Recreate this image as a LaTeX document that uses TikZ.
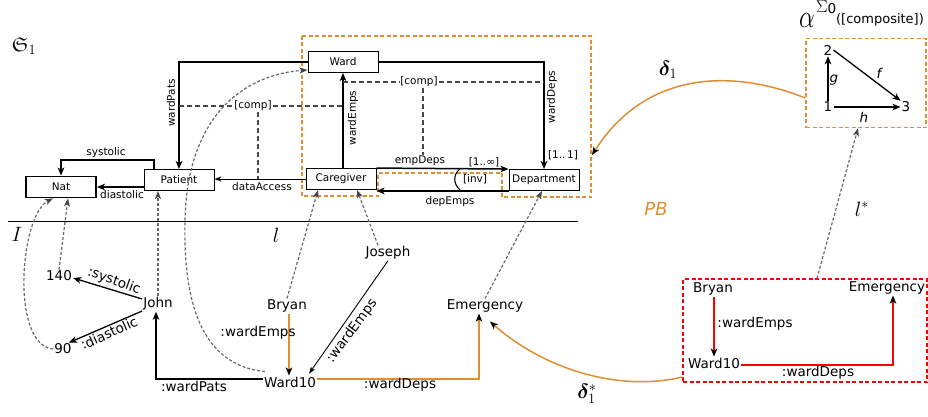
\documentclass[tikz,border=0pt]{standalone}
\usepackage{amsmath,amssymb,bm}
\usepackage{fontspec}
\setmainfont{DejaVu Sans}
\usetikzlibrary{arrows.meta,calc}
\definecolor{pborange}{RGB}{222,142,52}
\definecolor{mapgray}{RGB}{105,105,105}
\definecolor{compgray}{RGB}{70,70,70}
\begin{document}
\begin{tikzpicture}[x=1pt,y=-1pt,
  box/.style={draw, line width=0.9pt, minimum width=70pt, minimum height=21pt, inner sep=0pt, font=\fontsize{10.5}{12}\selectfont},
  sm/.style={font=\fontsize{10.5}{12}\selectfont, inner sep=1pt},
  lg/.style={font=\fontsize{13.5}{15}\selectfont, inner sep=1pt},
  arr/.style={line width=1.5pt, -{Stealth[length=8pt,width=6.5pt,inset=2pt]}},
  thinarr/.style={line width=0.9pt, -{Stealth[length=7pt,width=5pt,inset=2pt]}},
  oarr/.style={draw=pborange, line width=1.5pt, -{Stealth[length=8pt,width=6.5pt,inset=2pt,black]}},
  rarr/.style={draw=red, line width=1.5pt, -{Stealth[length=8pt,width=6.5pt,inset=2pt,black]}},
  maparr/.style={draw=mapgray, line width=1.2pt, dash pattern=on 3pt off 2pt, -{Stealth[length=8pt,width=6pt,inset=2pt,compgray]}},
  cdash/.style={draw=compgray, line width=1.3pt, dash pattern=on 5pt off 3pt},
  pbline/.style={draw=pborange, line width=1.3pt, dash pattern=on 4pt off 2.5pt},
  rline/.style={draw=red, line width=1.3pt, dash pattern=on 4pt off 2.5pt}
]
\useasboundingbox (0,0) rectangle (928,416);

% ---------- upper schema ----------
\node (S1) at (24,46) {\fontsize{20}{22}\selectfont$\mathfrak{S}_1$};

\node[box, line width=1.8pt] (Nat) at (61,187) {Nat};
\node[box] (Patient) at (179,180) {Patient};
\node[box] (Ward) at (343,62) {Ward};
\node[box] (Care) at (341,179) {Caregiver};
\node[box] (Dept) at (544,180) {Department};

% PB outline
\draw[pbline] (302,36) -- (591,36) -- (591,197) -- (502,197) -- (502,173) -- (378,173) -- (378,196) -- (302,196) -- cycle;
\coordinate (pbR) at (592,155);

\draw[arr] (Care.north -| Ward.south) -- (Ward.south);
\draw[arr] (Ward.east) -| (Dept.north);
\draw[arr] (Ward.west) -| (Patient.north);
\draw[arr] (Care.north east) -- (Dept.north west);
\draw[arr] (Dept.south west) -- (Dept.south west -| Care.east);
\draw[thinarr] (Care.west) -- (Care.west -| Patient.east);
\draw[arr] ([xshift=-25pt]Patient.north) -- ++(0,-9) -| (Nat.north);
\draw[arr] (Nat.east -| Patient.west) -- (Nat.east);

\node[sm] (lsys) at (106,153) {systolic};
\node[sm] (ldia) at (122,195) {diastolic};
\node[sm] (lda) at (262,187) {dataAccess};
\node[sm, rotate=90] (lwp) at (171,103) {wardPats};
\node[sm, rotate=90] (lwe) at (353,118) {wardEmps};
\node[sm, rotate=90] (lwd) at (552,97) {wardDeps};
\node[sm] (l11) at (563,155) {[1..\,1]};
\node[sm] (led) at (420,161) {empDeps};
\node[sm] (linf) at (484,162) {[1..∞]};
\node[sm] (lde) at (450,202) {depEmps};
\node[sm] (linv) at (475,179) {[inv]};
\draw[line width=1.1pt] (460,169) .. controls (453,174) and (453,184) .. (460,190);

% comp constraints
\node[sm] (comp1) at (253,106) {[comp]};
\draw[cdash] (Patient.north |- comp1) -- (comp1.west);
\draw[cdash] (comp1.east) -- (comp1 -| Ward.south);
\coordinate (c1v) at ([xshift=5pt]comp1.south);
\draw[cdash] (c1v) -- (c1v |- Care.west);

\node[sm] (comp2) at (419,82) {[comp]};
\draw[cdash] (comp2 -| Ward.south) -- (comp2.west);
\draw[cdash] (comp2.east) -- (comp2 -| Dept.north);
\coordinate (c2v) at ([xshift=4pt]comp2.south);
\draw[cdash] (c2v) -- (c2v |- led.north);

% separator
\coordinate (hl) at (8,221);
\coordinate (hr) at (578,221);
\draw[line width=1pt] (hl) -- (hr);
\node (I) at (17,234) {\fontsize{21}{24}\selectfont$I$};
\node (iota) at (276,235) {\fontsize{20}{24}\selectfont$l$};

% ---------- instance ----------
\node[lg] (n140) at (59,276) {140};
\node[lg] (John) at (158,304) {John};
\node[lg] (n90) at (63,349) {90};
\node[lg] (Bryan) at (287,306) {Bryan};
\node[lg] (W10) at (290,382) {Ward10};
\node[lg] (Joseph) at (388,253) {Joseph};
\node[lg] (Emer) at (485,306) {Emergency};

\draw[arr, line width=1.3pt] ([yshift=5pt]John.west) -- ([yshift=-2pt]n140.east);
\draw[arr, line width=1.3pt] ([yshift=-7pt]John.west) -- ([xshift=-4pt]n90.north east);
\draw[arr, line width=1.2pt] ([yshift=3pt]W10.west) -| ([xshift=-2pt]John.south);
\draw[oarr] ([xshift=2pt]Bryan.south) -- ([xshift=-1pt]W10.north);
\draw[thinarr] (Joseph.south) -- ([xshift=-8pt,yshift=2pt]W10.north east);
\draw[oarr] ([yshift=3pt]W10.east) -| ([xshift=-6pt]Emer.south);

\node[lg, rotate=-20] (lsys2) at (114,281) {:systolic};
\node[lg, rotate=24] (ldia2) at (109,333) {:diastolic};
\node[lg] (lwp2) at (194,386) {:wardPats};
\node[lg] (lwe2) at (258,333) {:wardEmps};
\node[lg, rotate=53.6] (lwe3) at (352,331) {:wardEmps};
\node[lg] (lwd2) at (400,385) {:wardDeps};

% mapping arrows
\draw[maparr] (n140.north) -- ([xshift=7pt]Nat.south);
\draw[maparr] (n90.west) .. controls (10,345) and (20,215) .. ([xshift=-8pt]Nat.south);
\draw[maparr] (John.north) -- (John.north |- Patient.south);
\draw[maparr] ([xshift=2pt,yshift=4pt]W10.north west) .. controls (200,365) and (183,300) .. (185,220) .. controls (187,120) and (240,75) .. ([yshift=-8pt]Ward.west);
\draw[maparr] (Bryan.north) -- ([xshift=-23pt]Care.south);
\draw[maparr] ([xshift=-10pt]Joseph.north) -- ([xshift=16pt]Care.south);
\draw[maparr] (Emer.north) -- ([xshift=-2pt]Dept.south);

% ---------- right part ----------
\node[draw=pborange, line width=1.3pt, dash pattern=on 4pt off 2.5pt, minimum width=120pt, minimum height=89pt, inner sep=0pt] (abox) at (866,83) {};
\node (alpha) at (807,21) {\fontsize{24}{26}\selectfont\scalebox{1}[1.3]{$\alpha$}};
\node[inner sep=0pt] (Sigma) at (822,7) {\fontsize{17}{18}\selectfont$\Sigma$};
\node[inner sep=0pt] (zero) at (832,9) {\fontsize{13.5}{15}\selectfont 0};
\node[inner sep=0pt] (compos) at (880,20) {\fontsize{13}{15}\selectfont([composite])};

\node[lg] (v2) at (828,50) {2};
\node[lg] (v1) at (828,107) {1};
\node[lg] (v3) at (906,107) {3};
\draw[arr, line width=1.3pt] (v1.north) -- (v2.south);
\draw[arr, line width=1.3pt] (v2.east) -- (v3.north west);
\draw[arr, line width=1.3pt] (v1.east) -- (v3.west);
\node[lg, font=\fontsize{13.5}{15}\selectfont\itshape] (lg) at (834,80) {g};
\node[lg, font=\fontsize{13.5}{15}\selectfont\itshape] (lf) at (879,73) {f};
\node[lg, font=\fontsize{13.5}{15}\selectfont\itshape] (lh) at (864,117) {h};

\draw[oarr] ([yshift=-15pt]abox.west) .. controls (730,68) and (645,72) .. (pbR);
\node (d1) at (668,70) {\fontsize{20}{22}\selectfont$\bm{\delta}_1$};
\node[text=pborange, font=\fontsize{18}{20}\selectfont\itshape] (PB) at (656,209) {PB};

\node[rline, minimum width=244pt, minimum height=103pt, inner sep=0pt] (inst) at (805,330.5) {};
\node[lg] (Bryan2) at (713,289) {Bryan};
\node[lg] (Emer2) at (887,288) {Emergency};
\node[lg] (W10b) at (714,363) {Ward10};
\draw[rarr] ([xshift=1pt]Bryan2.south) -- (W10b.north);
\draw[rarr] ([yshift=-2pt]W10b.east) -| ([xshift=6pt]Emer2.south);
\node[lg] (lwe4) at (755,324) {:wardEmps};
\node[lg] (lwd4) at (818,373) {:wardDeps};

\draw[maparr] ([xshift=12pt]inst.north) -- ([xshift=-8pt]abox.south);
\node (lstar) at (862,209) {\fontsize{20}{22}\selectfont$l^{*}$};

\draw[oarr] ([yshift=-46.5pt]inst.west) .. controls (620,392) and (545,370) .. ([xshift=5pt,yshift=-8pt]Emer.south);
\node (d1s) at (587,394) {\fontsize{20}{22}\selectfont$\bm{\delta}_1^{*}$};
\end{tikzpicture}
\end{document}
